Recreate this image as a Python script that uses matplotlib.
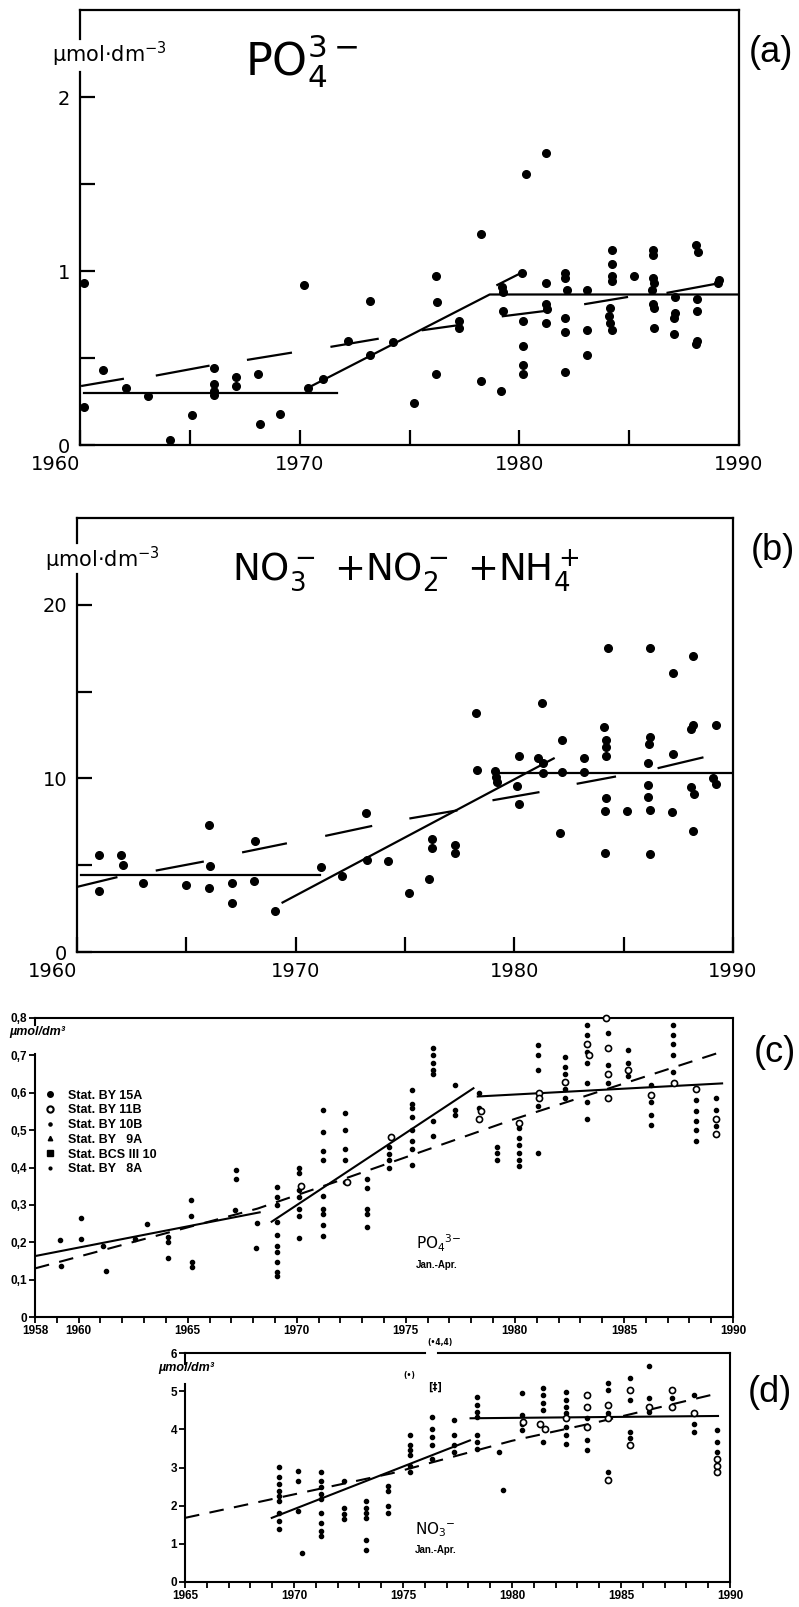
import matplotlib
matplotlib.use('Agg')
import matplotlib.pyplot as plt
from matplotlib.lines import Line2D
from matplotlib import font_manager

plt.rcParams['font.family'] = ['DejaVu Sans']
plt.rcParams['mathtext.fontset'] = 'dejavusans'

_names = {f.name for f in font_manager.fontManager.ttflist}
HELV = 'Liberation Sans' if 'Liberation Sans' in _names else 'DejaVu Sans'
NARROW = 'Liberation Sans Narrow' if 'Liberation Sans Narrow' in _names else HELV

# ---------------- panel (a): PO4 ----------------
a_year = [1960.2, 1960.2, 1961.05, 1962.1, 1963.1, 1964.1, 1965.1, 1966.1, 1966.1, 1966.1, 1966.1,
          1967.1, 1967.1, 1968.1, 1968.2, 1969.1, 1970.2, 1970.4, 1971.05, 1972.2, 1973.2, 1973.2,
          1974.25, 1975.2, 1976.2, 1976.25, 1976.2, 1977.25, 1977.25, 1978.25, 1978.25, 1979.15,
          1979.2, 1979.25, 1979.25, 1980.1, 1980.3, 1980.15, 1980.15, 1980.15, 1980.15, 1981.2,
          1981.2, 1981.2, 1981.25, 1981.2, 1982.1, 1982.1, 1982.15, 1982.1, 1982.1, 1982.1, 1983.1,
          1983.1, 1983.1, 1984.2, 1984.2, 1984.2, 1984.2, 1984.15, 1984.1, 1984.15, 1984.2, 1985.2,
          1986.1, 1986.1, 1986.1, 1986.15, 1986.05, 1986.1, 1986.15, 1986.15, 1987.1, 1987.1,
          1987.05, 1987.05, 1988.05, 1988.15, 1988.1, 1988.1, 1988.1, 1988.05, 1989.1, 1989.05]
a_val = [0.93, 0.22, 0.43, 0.33, 0.28, 0.03, 0.17, 0.44, 0.35, 0.31, 0.29,
         0.39, 0.34, 0.41, 0.12, 0.18, 0.92, 0.33, 0.38, 0.60, 0.83, 0.52,
         0.59, 0.24, 0.97, 0.82, 0.41, 0.71, 0.67, 1.21, 0.37, 0.31,
         0.91, 0.88, 0.77, 0.99, 1.56, 0.71, 0.57, 0.46, 0.41, 1.68,
         0.93, 0.81, 0.78, 0.70, 0.99, 0.96, 0.89, 0.73, 0.65, 0.42, 0.89,
         0.66, 0.52, 1.12, 1.04, 0.97, 0.94, 0.79, 0.74, 0.70, 0.66, 0.97,
         1.12, 1.09, 0.96, 0.93, 0.89, 0.81, 0.79, 0.67, 0.85, 0.76,
         0.73, 0.64, 1.15, 1.11, 0.84, 0.77, 0.60, 0.58, 0.95, 0.93]
a_flat_x = [1960.2, 1971.7]
a_flat_y = [0.30, 0.30]
a_trend_x = [1970.4, 1978.65, 1990.0]
a_trend_y = [0.33, 0.865, 0.865]
a_seg_x0 = [1960.1, 1963.5, 1967.65, 1971.45, 1975.6, 1979.0, 1979.25, 1983.0, 1986.75]
a_seg_x1 = [1961.95, 1965.85, 1969.6, 1973.55, 1977.3, 1980.1, 1981.15, 1984.9, 1989.1]
a_seg_y0 = [0.34, 0.40, 0.49, 0.565, 0.66, 0.92, 0.74, 0.81, 0.875]
a_seg_y1 = [0.38, 0.455, 0.53, 0.61, 0.69, 0.99, 0.77, 0.85, 0.93]

# ---------------- panel (b): NO3+NO2+NH4 ----------------
b_year = [1961.0, 1961.0, 1962.0, 1962.1, 1963.0, 1965.0, 1966.05, 1966.1, 1966.05, 1967.1, 1967.1,
          1968.15, 1968.1, 1969.05, 1971.15, 1972.1, 1973.2, 1973.25, 1974.2, 1975.2, 1976.1,
          1976.25, 1976.25, 1977.3, 1977.3, 1978.25, 1978.3, 1979.1, 1979.15, 1979.2, 1980.2,
          1980.1, 1980.2, 1981.25, 1981.1, 1981.3, 1981.3, 1982.2, 1982.2, 1982.1, 1983.2, 1983.2,
          1984.3, 1984.1, 1984.2, 1984.2, 1984.2, 1984.2, 1984.15, 1984.15, 1985.15, 1986.2,
          1986.2, 1986.15, 1986.1, 1986.1, 1986.1, 1986.2, 1986.2, 1987.25, 1987.25, 1987.2,
          1988.15, 1988.15, 1988.1, 1988.1, 1988.2, 1988.15, 1989.2, 1989.1, 1989.2]
b_val = [5.6, 3.5, 5.6, 5.0, 4.0, 3.85, 7.3, 4.95, 3.7, 4.0, 2.8,
         6.4, 4.1, 2.35, 4.9, 4.35, 8.0, 5.3, 5.25, 3.4, 4.2,
         6.5, 6.0, 6.15, 5.7, 13.75, 10.5, 10.45, 10.1, 9.8, 11.3,
         9.55, 8.55, 14.35, 11.15, 10.9, 10.3, 12.2, 10.35, 6.85, 11.2, 10.35,
         17.5, 12.95, 12.2, 11.8, 11.3, 8.85, 8.15, 5.7, 8.15, 17.5,
         12.4, 12.0, 10.9, 9.6, 8.9, 8.2, 5.65, 16.1, 11.4, 8.05,
         17.05, 13.1, 12.85, 9.5, 9.1, 6.95, 13.05, 10.05, 9.65]
b_flat_x = [1960.2, 1971.1]
b_flat_y = [4.45, 4.45]
b_trend_x = [1969.4, 1981.8]
b_trend_y = [2.85, 11.15]
b_top_x = [1979.3, 1990.0]
b_top_y = [10.3, 10.3]
b_seg_x0 = [1960.0, 1963.65, 1967.6, 1971.4, 1975.25, 1979.05, 1982.9, 1986.6]
b_seg_x1 = [1961.8, 1965.75, 1969.55, 1973.45, 1977.35, 1981.1, 1984.6, 1988.6]
b_seg_y0 = [3.75, 4.7, 5.75, 6.7, 7.7, 8.75, 9.7, 10.6]
b_seg_y1 = [4.3, 5.2, 6.25, 7.25, 8.15, 9.2, 10.1, 11.2]

# ---------------- panel (c): PO4 Jan.-Apr. ----------------
c_dot_year = [1959.15, 1959.2, 1960.1, 1960.1, 1961.25, 1961.1, 1962.6, 1963.15, 1964.1, 1964.1, 1964.1,
              1965.15, 1965.15, 1965.2, 1965.2, 1967.2, 1967.2, 1967.15, 1968.2, 1968.15,
              1969.1, 1969.1, 1969.1, 1969.1, 1969.1, 1969.1, 1969.1, 1969.1, 1969.1, 1969.1,
              1970.1, 1970.1, 1970.1, 1970.1, 1970.1, 1970.1, 1970.1,
              1971.2, 1971.2, 1971.2, 1971.2, 1971.2, 1971.2, 1971.2, 1971.2, 1971.2,
              1972.2, 1972.2, 1972.2, 1972.2, 1972.2,
              1973.2, 1973.2, 1973.2, 1973.2, 1973.2,
              1974.25, 1974.25, 1974.25, 1974.25,
              1975.3, 1975.3, 1975.3, 1975.3, 1975.3, 1975.3, 1975.3, 1975.3,
              1976.25, 1976.25, 1976.25, 1976.25, 1976.25, 1976.25, 1976.25,
              1977.25, 1977.25, 1977.25, 1978.35, 1978.35, 1979.2, 1979.2, 1979.2,
              1980.2, 1980.2, 1980.2, 1980.2, 1980.2, 1980.2,
              1981.05, 1981.05, 1981.05, 1981.05, 1981.05,
              1982.3, 1982.3, 1982.3, 1982.3, 1982.3,
              1983.3, 1983.3, 1983.3, 1983.3, 1983.3, 1983.3, 1983.3,
              1984.25, 1984.25, 1984.25, 1985.2, 1985.2, 1985.2,
              1986.25, 1986.25, 1986.25, 1986.25,
              1987.25, 1987.25, 1987.25, 1987.25, 1987.25,
              1988.3, 1988.3, 1988.3, 1988.3, 1988.3, 1989.2, 1989.2, 1989.2]
c_dot_val = [0.206, 0.136, 0.265, 0.209, 0.123, 0.19, 0.209, 0.249, 0.215, 0.20, 0.158,
             0.313, 0.27, 0.147, 0.135, 0.394, 0.37, 0.285, 0.252, 0.185,
             0.348, 0.32, 0.30, 0.255, 0.22, 0.19, 0.175, 0.148, 0.12, 0.11,
             0.40, 0.385, 0.34, 0.32, 0.29, 0.27, 0.211,
             0.553, 0.495, 0.445, 0.42, 0.325, 0.29, 0.275, 0.245, 0.218,
             0.546, 0.50, 0.45, 0.42, 0.36,
             0.37, 0.345, 0.29, 0.275, 0.24,
             0.455, 0.435, 0.42, 0.40,
             0.607, 0.57, 0.56, 0.535, 0.50, 0.47, 0.45, 0.406,
             0.72, 0.70, 0.68, 0.66, 0.65, 0.525, 0.485,
             0.62, 0.555, 0.54, 0.60, 0.56, 0.455, 0.44, 0.42,
             0.505, 0.48, 0.46, 0.44, 0.42, 0.405,
             0.727, 0.70, 0.66, 0.565, 0.44,
             0.695, 0.67, 0.65, 0.61, 0.585,
             0.78, 0.755, 0.71, 0.68, 0.625, 0.575, 0.53,
             0.76, 0.675, 0.625, 0.715, 0.68, 0.645,
             0.62, 0.575, 0.54, 0.515,
             0.78, 0.755, 0.73, 0.70, 0.655,
             0.58, 0.55, 0.525, 0.50, 0.47, 0.585, 0.555, 0.51]
c_ring_year = [1970.2, 1972.3, 1974.3, 1978.45, 1978.35, 1980.2, 1981.1, 1981.1, 1982.3, 1983.3,
               1983.4, 1984.2, 1984.25, 1984.25, 1984.25, 1985.2, 1986.25, 1987.3, 1988.3, 1989.2, 1989.2]
c_ring_val = [0.35, 0.36, 0.482, 0.55, 0.53, 0.52, 0.60, 0.585, 0.63, 0.73,
              0.70, 0.80, 0.72, 0.65, 0.585, 0.66, 0.595, 0.625, 0.61, 0.53, 0.49]
c_line1_x = [1958.0, 1968.3]
c_line1_y = [0.163, 0.28]
c_line2_x = [1968.85, 1978.1]
c_line2_y = [0.255, 0.612]
c_line3_x = [1978.3, 1989.5]
c_line3_y = [0.59, 0.625]
c_dash_x = [1958.0, 1968.2, 1971.7, 1980.0, 1989.5]
c_dash_y = [0.13, 0.29, 0.36, 0.53, 0.71]
c_legend = ['Stat. BY 15A', 'Stat. BY 11B', 'Stat. BY 10B', 'Stat. BY   9A',
            'Stat. BCS III 10', 'Stat. BY   8A']

# ---------------- panel (d): NO3 Jan.-Apr. ----------------
d_dot_year = [1969.3] * 9 + [1970.2] * 3 + [1970.35] + [1971.25] * 9 + [1972.3] * 4 + [1973.3] * 6 + \
             [1974.3] * 4 + [1975.3] * 6 + [1976.35] * 5 + [1977.35] * 4 + [1978.4] * 7 + \
             [1979.6, 1979.4] + [1980.45] * 4 + [1981.4] * 5 + [1982.5] * 7 + [1983.45] * 3 + \
             [1984.4] * 4 + [1985.4] * 4 + [1986.3] * 3 + [1987.35] + [1988.35] * 3 + [1989.4] * 3
d_dot_val = [3.01, 2.74, 2.57, 2.39, 2.26, 2.12, 1.82, 1.60, 1.38,
             2.92, 2.65, 1.86, 0.76,
             2.87, 2.65, 2.48, 2.30, 2.17, 1.82, 1.55, 1.33, 1.20,
             2.65, 1.95, 1.77, 1.64,
             2.12, 1.95, 1.82, 1.68, 1.11, 0.85,
             2.52, 2.39, 1.99, 1.82,
             3.84, 3.58, 3.45, 3.32, 3.05, 2.88,
             4.33, 4.02, 3.80, 3.58, 3.23,
             4.24, 3.84, 3.58, 3.40,
             4.86, 4.64, 4.46, 4.33, 3.84, 3.67, 3.49,
             2.42, 3.40,
             4.95, 4.37, 4.15, 3.98,
             5.08, 4.90, 4.68, 4.51, 3.67,
             4.99, 4.77, 4.59, 4.42, 4.07, 3.84, 3.62,
             4.29, 3.71, 3.45,
             5.21, 5.04, 4.42, 2.88,
             5.34, 4.77, 3.94, 3.76,
             5.65, 4.81, 4.46,
             4.81,
             4.90, 4.15, 3.94,
             3.98, 3.67, 3.40]
d_ring_year = [1980.5, 1981.3, 1981.5, 1982.5, 1983.45, 1983.45, 1983.45, 1984.4, 1984.4, 1984.4,
               1985.4, 1985.4, 1986.3, 1987.35, 1987.35, 1988.35, 1989.4, 1989.4, 1989.4]
d_ring_val = [4.2, 4.15, 4.02, 4.29, 4.90, 4.59, 4.07, 4.64, 4.29, 2.66,
              5.04, 3.58, 4.59, 5.04, 4.59, 4.42, 3.23, 3.05, 2.88]
d_line1_x = [1968.98, 1978.07]
d_line1_y = [1.68, 3.71]
d_line2_x = [1978.1, 1989.45]
d_line2_y = [4.29, 4.35]
d_dash_x = [1965.0, 1974.5, 1980.0, 1984.0, 1989.5]
d_dash_y = [1.68, 2.85, 3.7, 4.2, 4.95]

W, H = 799, 1607
fig = plt.figure(figsize=(W / 100, H / 100), dpi=100)


def fx(px):
    return px / W


def fy(py):
    return 1 - py / H


def add_ax(x0, y0, x1, y1):
    return fig.add_axes([fx(x0), fy(y1), (x1 - x0) / W, (y1 - y0) / H])


LW = 1.6

# ---- (a) ----
ax = add_ax(80, 10, 739, 445)
ax.set_xlim(1960, 1990)
ax.set_ylim(0, 2.5)
ax.plot(a_year, a_val, 'o', color='k', ms=5.5, zorder=3, clip_on=False)
ax.plot(a_flat_x, a_flat_y, '-', color='k', lw=LW)
ax.plot(a_trend_x, a_trend_y, '-', color='k', lw=LW)
for x0, x1, y0, y1 in zip(a_seg_x0, a_seg_x1, a_seg_y0, a_seg_y1):
    ax.plot([x0, x1], [y0, y1], '-', color='k', lw=LW)
ax.set_xticks(range(1960, 1991, 5))
ax.set_xticklabels(['1960', '', '1970', '', '1980', '', '1990'])
ax.set_yticks([0, 0.5, 1, 1.5, 2])
ax.set_yticklabels(['0', '', '1', '', '2'])
ax.tick_params(direction='in', length=11, width=LW, labelsize=14, pad=7)
ax.get_xticklabels()[0].set_horizontalalignment('right')
for s in ax.spines.values():
    s.set_linewidth(LW)
ax.spines['left'].set_bounds(0, 2.144)
ax.axvline(1960, ymin=2.334 / 2.5, ymax=1, color='k', lw=LW, clip_on=False)
fig.text(fx(109), fy(54), r'µmol$\cdot$dm$^{-3}$', ha='center', va='center', fontsize=15)
fig.text(fx(245), fy(76), r'PO$_4^{3-}$', ha='left', va='baseline', fontsize=32)
fig.text(fx(771), fy(53), '(a)', ha='center', va='center', fontsize=26, family=HELV)

# ---- (b) ----
ax = add_ax(77, 518, 733, 952)
ax.set_xlim(1960, 1990)
ax.set_ylim(0, 25)
ax.plot(b_year, b_val, 'o', color='k', ms=5.5, zorder=3, clip_on=False)
ax.plot(b_flat_x, b_flat_y, '-', color='k', lw=LW)
ax.plot(b_trend_x, b_trend_y, '-', color='k', lw=LW)
ax.plot(b_top_x, b_top_y, '-', color='k', lw=LW)
for x0, x1, y0, y1 in zip(b_seg_x0, b_seg_x1, b_seg_y0, b_seg_y1):
    ax.plot([x0, x1], [y0, y1], '-', color='k', lw=LW)
ax.set_xticks(range(1960, 1991, 5))
ax.set_xticklabels(['1960', '', '1970', '', '1980', '', '1990'])
ax.set_yticks([0, 5, 10, 15, 20])
ax.set_yticklabels(['0', '', '10', '', '20'])
ax.tick_params(direction='in', length=11, width=LW, labelsize=14, pad=7)
ax.get_xticklabels()[0].set_horizontalalignment('right')
for s in ax.spines.values():
    s.set_linewidth(LW)
ax.spines['left'].set_bounds(0, 21.8)
ax.axvline(1960, ymin=23.56 / 25, ymax=1, color='k', lw=LW, clip_on=False)
fig.text(fx(102), fy(559), r'µmol$\cdot$dm$^{-3}$', ha='center', va='center', fontsize=15)
fig.text(fx(232), fy(580), r'NO$_3^-$ +NO$_2^-$ +NH$_4^+$', ha='left', va='baseline', fontsize=26.7)
fig.text(fx(773), fy(550), '(b)', ha='center', va='center', fontsize=26, family=HELV)

# ---- (c) ----
LW2 = 1.5
ax = add_ax(35, 1018, 733, 1317)
ax.set_xlim(1958, 1990)
ax.set_ylim(0, 0.8)
ax.plot(c_line1_x, c_line1_y, '-', color='k', lw=LW2)
ax.plot(c_line2_x, c_line2_y, '-', color='k', lw=LW2)
ax.plot(c_line3_x, c_line3_y, '-', color='k', lw=LW2)
ax.plot(c_dash_x, c_dash_y, color='k', lw=LW2, linestyle=(0, (7, 5)))
ax.plot(c_dot_year, c_dot_val, 'o', color='k', ms=3.0, zorder=3, clip_on=False)
ax.plot(c_ring_year, c_ring_val, 'o', mfc='white', mec='k', mew=1.2, ms=4.4, zorder=4, clip_on=False)
xt = list(range(1958, 1991))
ax.set_xticks(xt)
ax.set_xticklabels([str(y) if (y == 1958 or y % 5 == 0) else '' for y in xt])
yt = [i / 10 for i in range(9)]
ax.set_yticks(yt)
ax.set_yticklabels(['0'] + ['0,%d' % i for i in range(1, 9)])
ax.tick_params(direction='out', length=4, width=1.3, labelsize=8.5, pad=1.5)
for lab in ax.get_xticklabels() + ax.get_yticklabels():
    lab.set_fontweight('bold')
    lab.set_family(NARROW)
for s in ax.spines.values():
    s.set_linewidth(LW2)
ax.spines['left'].set_bounds(0, 0.705)
ax.axvline(1958, ymin=0.78 / 0.8, ymax=1, color='k', lw=LW2, clip_on=False)
fig.text(fx(9), fy(1032), 'µmol/dm³', ha='left', va='center', fontsize=9,
         fontweight='bold', style='italic', family=HELV)
handles = [
    Line2D([], [], ls='none', marker='o', color='k', ms=4),
    Line2D([], [], ls='none', marker='o', mfc='white', mec='k', mew=1.5, ms=4.5),
    Line2D([], [], ls='none', marker='.', color='k', ms=4.5),
    Line2D([], [], ls='none', marker='^', color='k', ms=3.2),
    Line2D([], [], ls='none', marker='s', color='k', ms=3.8),
    Line2D([], [], ls='none', marker='.', color='k', ms=4),
]
leg = ax.legend(handles, c_legend, loc='upper left', bbox_to_anchor=(0.0, 0.79), frameon=False,
                handlelength=1.0, handletextpad=0.9, labelspacing=0.22, borderaxespad=0.3,
                prop={'size': 9, 'weight': 'bold', 'family': NARROW})
ax.text(1975.45, 0.18, r'PO$_4$$^{3\!-}$', fontsize=11, ha='left', va='baseline')
ax.text(1975.45, 0.13, 'Jan.-Apr.', fontsize=7, fontweight='bold', ha='left', va='baseline', family=HELV)
fig.text(fx(775), fy(1053), '(c)', ha='center', va='center', fontsize=26, family=HELV)

# ---- (d) ----
ax = add_ax(185, 1353, 730, 1582)
ax.set_xlim(1965, 1990)
ax.set_ylim(0, 6)
ax.plot(d_line1_x, d_line1_y, '-', color='k', lw=LW2)
ax.plot(d_line2_x, d_line2_y, '-', color='k', lw=LW2)
ax.plot(d_dash_x, d_dash_y, color='k', lw=LW2, linestyle=(0, (7, 5)))
ax.plot(d_dot_year, d_dot_val, 'o', color='k', ms=3.0, zorder=3)
ax.plot(d_ring_year, d_ring_val, 'o', mfc='white', mec='k', mew=1.2, ms=4.4, zorder=4)
xt = list(range(1965, 1991))
ax.set_xticks(xt)
ax.set_xticklabels([str(y) if y % 5 == 0 else '' for y in xt])
ax.set_yticks(range(7))
ax.set_yticklabels([str(i) for i in range(7)])
ax.tick_params(direction='out', length=4, width=1.3, labelsize=8.5, pad=1.5)
for lab in ax.get_xticklabels() + ax.get_yticklabels():
    lab.set_fontweight('bold')
    lab.set_family(NARROW)
for s in ax.spines.values():
    s.set_linewidth(LW2)
ax.spines['top'].set_visible(False)
ax.axhline(6, xmin=0, xmax=(425 - 185) / 545, color='k', lw=LW2, clip_on=False)
ax.axhline(6, xmin=(438 - 185) / 545, xmax=1, color='k', lw=LW2, clip_on=False)
ax.spines['left'].set_bounds(0, 5.2)
ax.axvline(1965, ymin=5.7 / 6, ymax=1, color='k', lw=LW2, clip_on=False)
fig.text(fx(158), fy(1368), 'µmol/dm³', ha='left', va='center', fontsize=9,
         fontweight='bold', style='italic', family=HELV)
ax.text(1976.7, 6.27, '(•4,4)', fontsize=5.5, fontweight='bold', ha='center', va='center', clip_on=False)
ax.text(1975.3, 5.42, '(•)', fontsize=5.5, fontweight='bold', ha='center', va='center')
ax.text(1976.45, 5.1, '[‡]', fontsize=7, fontweight='bold', ha='center', va='center')
ax.text(1975.55, 1.25, r'NO$_3$$^{-}$', fontsize=11, ha='left', va='baseline')
ax.text(1975.55, 0.75, 'Jan.-Apr.', fontsize=7, fontweight='bold', ha='left', va='baseline', family=HELV)
fig.text(fx(770), fy(1393), '(d)', ha='center', va='center', fontsize=26, family=HELV)

fig.savefig('out.png', dpi=100, facecolor='white')
